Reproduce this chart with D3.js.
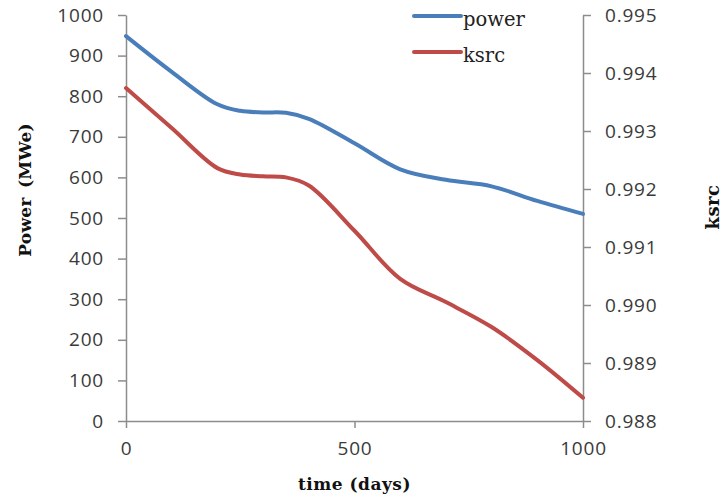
<!DOCTYPE html>
<html>
<head>
<meta charset="utf-8">
<script src="https://cdn.jsdelivr.net/npm/d3@7"></script>
<style>
  html, body { margin: 0; padding: 0; background: #fff; }
  svg { display: block; }
</style>
</head>
<body>
<div id="chart"></div>
<script>
// ---- data ----
const days       = [0, 100, 200, 250, 300, 350, 400, 500, 600, 700, 800, 900, 1000];
const powerMWe   = [948, 860, 780, 764, 760, 759, 744, 684, 620, 594, 578, 542, 510];
const ksrcValues = [0.99374, 0.99305, 0.99236, 0.99225, 0.99222, 0.99220, 0.99206, 0.99128, 0.99045, 0.99005, 0.98962, 0.98905, 0.98840];
const xTicks     = [0, 500, 1000];
const leftTicks  = [0, 100, 200, 300, 400, 500, 600, 700, 800, 900, 1000];
const rightTicks = [0.988, 0.989, 0.990, 0.991, 0.992, 0.993, 0.994, 0.995];
const seriesNames = ["power", "ksrc"];

// ---- layout ----
const W = 725, H = 500;
const m = { left: 126, right: 142, top: 15, bottom: 79 };
const x0 = m.left, x1 = W - m.right, y0 = H - m.bottom, y1 = m.top;
const axisColor = "#8c8c8c";
const textColor = "#3a3a3a";
const blue = "#4a7ebb", red = "#be4b48";

const svg = d3.select("#chart").append("svg").attr("width", W).attr("height", H);

const x = d3.scaleLinear().domain([0, 1000]).range([x0, x1]);
const yL = d3.scaleLinear().domain([0, 1000]).range([y0, y1]);
const yR = d3.scaleLinear().domain([0.988, 0.995]).range([y0, y1]);

function styleAxis(g) {
  g.select(".domain").attr("stroke", axisColor).attr("stroke-width", 1.5);
  g.selectAll(".tick line").attr("stroke", axisColor).attr("stroke-width", 1.5);
  g.selectAll(".tick text")
    .attr("fill", textColor)
    .style("font-family", "'Open Sans', sans-serif")
    .style("font-size", "19px")
    .style("letter-spacing", "0.8px");
}

svg.append("g").attr("transform", `translate(0,${y0})`)
  .call(d3.axisBottom(x).tickValues(xTicks).tickFormat(d3.format("d")).tickSize(7).tickSizeOuter(0).tickPadding(14))
  .call(styleAxis);

svg.append("g").attr("transform", `translate(${x0},0)`)
  .call(d3.axisLeft(yL).tickValues(leftTicks).tickFormat(d3.format("d")).tickSize(8).tickSizeOuter(0).tickPadding(14))
  .call(styleAxis);

svg.append("g").attr("transform", `translate(${x1},0)`)
  .call(d3.axisRight(yR).tickValues(rightTicks).tickFormat(d3.format(".3f")).tickSize(8).tickSizeOuter(0).tickPadding(14))
  .call(styleAxis);

// ---- lines ----
const powerLine = d3.line().x((d, i) => x(days[i])).y(d => yL(d)).curve(d3.curveCatmullRom.alpha(0.5));
const ksrcLine  = d3.line().x((d, i) => x(days[i])).y(d => yR(d)).curve(d3.curveCatmullRom.alpha(0.5));

svg.append("path").attr("d", powerLine(powerMWe))
  .attr("fill", "none").attr("stroke", blue).attr("stroke-width", 4).attr("stroke-linecap", "round");
svg.append("path").attr("d", ksrcLine(ksrcValues))
  .attr("fill", "none").attr("stroke", red).attr("stroke-width", 4).attr("stroke-linecap", "round");

// ---- legend ----
const legendColors = [blue, red];
const legendY = [16, 52];
seriesNames.forEach((name, i) => {
  svg.append("line")
    .attr("x1", 414).attr("x2", 461).attr("y1", legendY[i]).attr("y2", legendY[i])
    .attr("stroke", legendColors[i]).attr("stroke-width", 4).attr("stroke-linecap", "round");
  svg.append("text")
    .attr("x", 463).attr("y", legendY[i] + 10)
    .attr("fill", "#222")
    .style("font-family", "'DejaVu Serif', serif")
    .style("font-size", "19.5px")
    .text(name);
});

// ---- axis titles ----
const titleStyle = sel => sel
  .attr("fill", "#111")
  .style("font-family", "'DejaVu Serif', serif")
  .style("font-weight", "bold")
  .style("font-size", "17px")
  .style("letter-spacing", "0.5px");

svg.append("text").attr("x", (x0 + x1) / 2).attr("y", 490)
  .attr("text-anchor", "middle").call(titleStyle).text("time (days)");

svg.append("text").attr("transform", "translate(31,190) rotate(-90)")
  .attr("text-anchor", "middle").call(titleStyle).style("letter-spacing", "0.3px").style("word-spacing", "3px").text("Power (MWe)");

svg.append("text").attr("transform", "translate(719,207) rotate(-90)")
  .attr("text-anchor", "middle").call(titleStyle).style("font-size", "18px").text("ksrc");
</script>
</body>
</html>
